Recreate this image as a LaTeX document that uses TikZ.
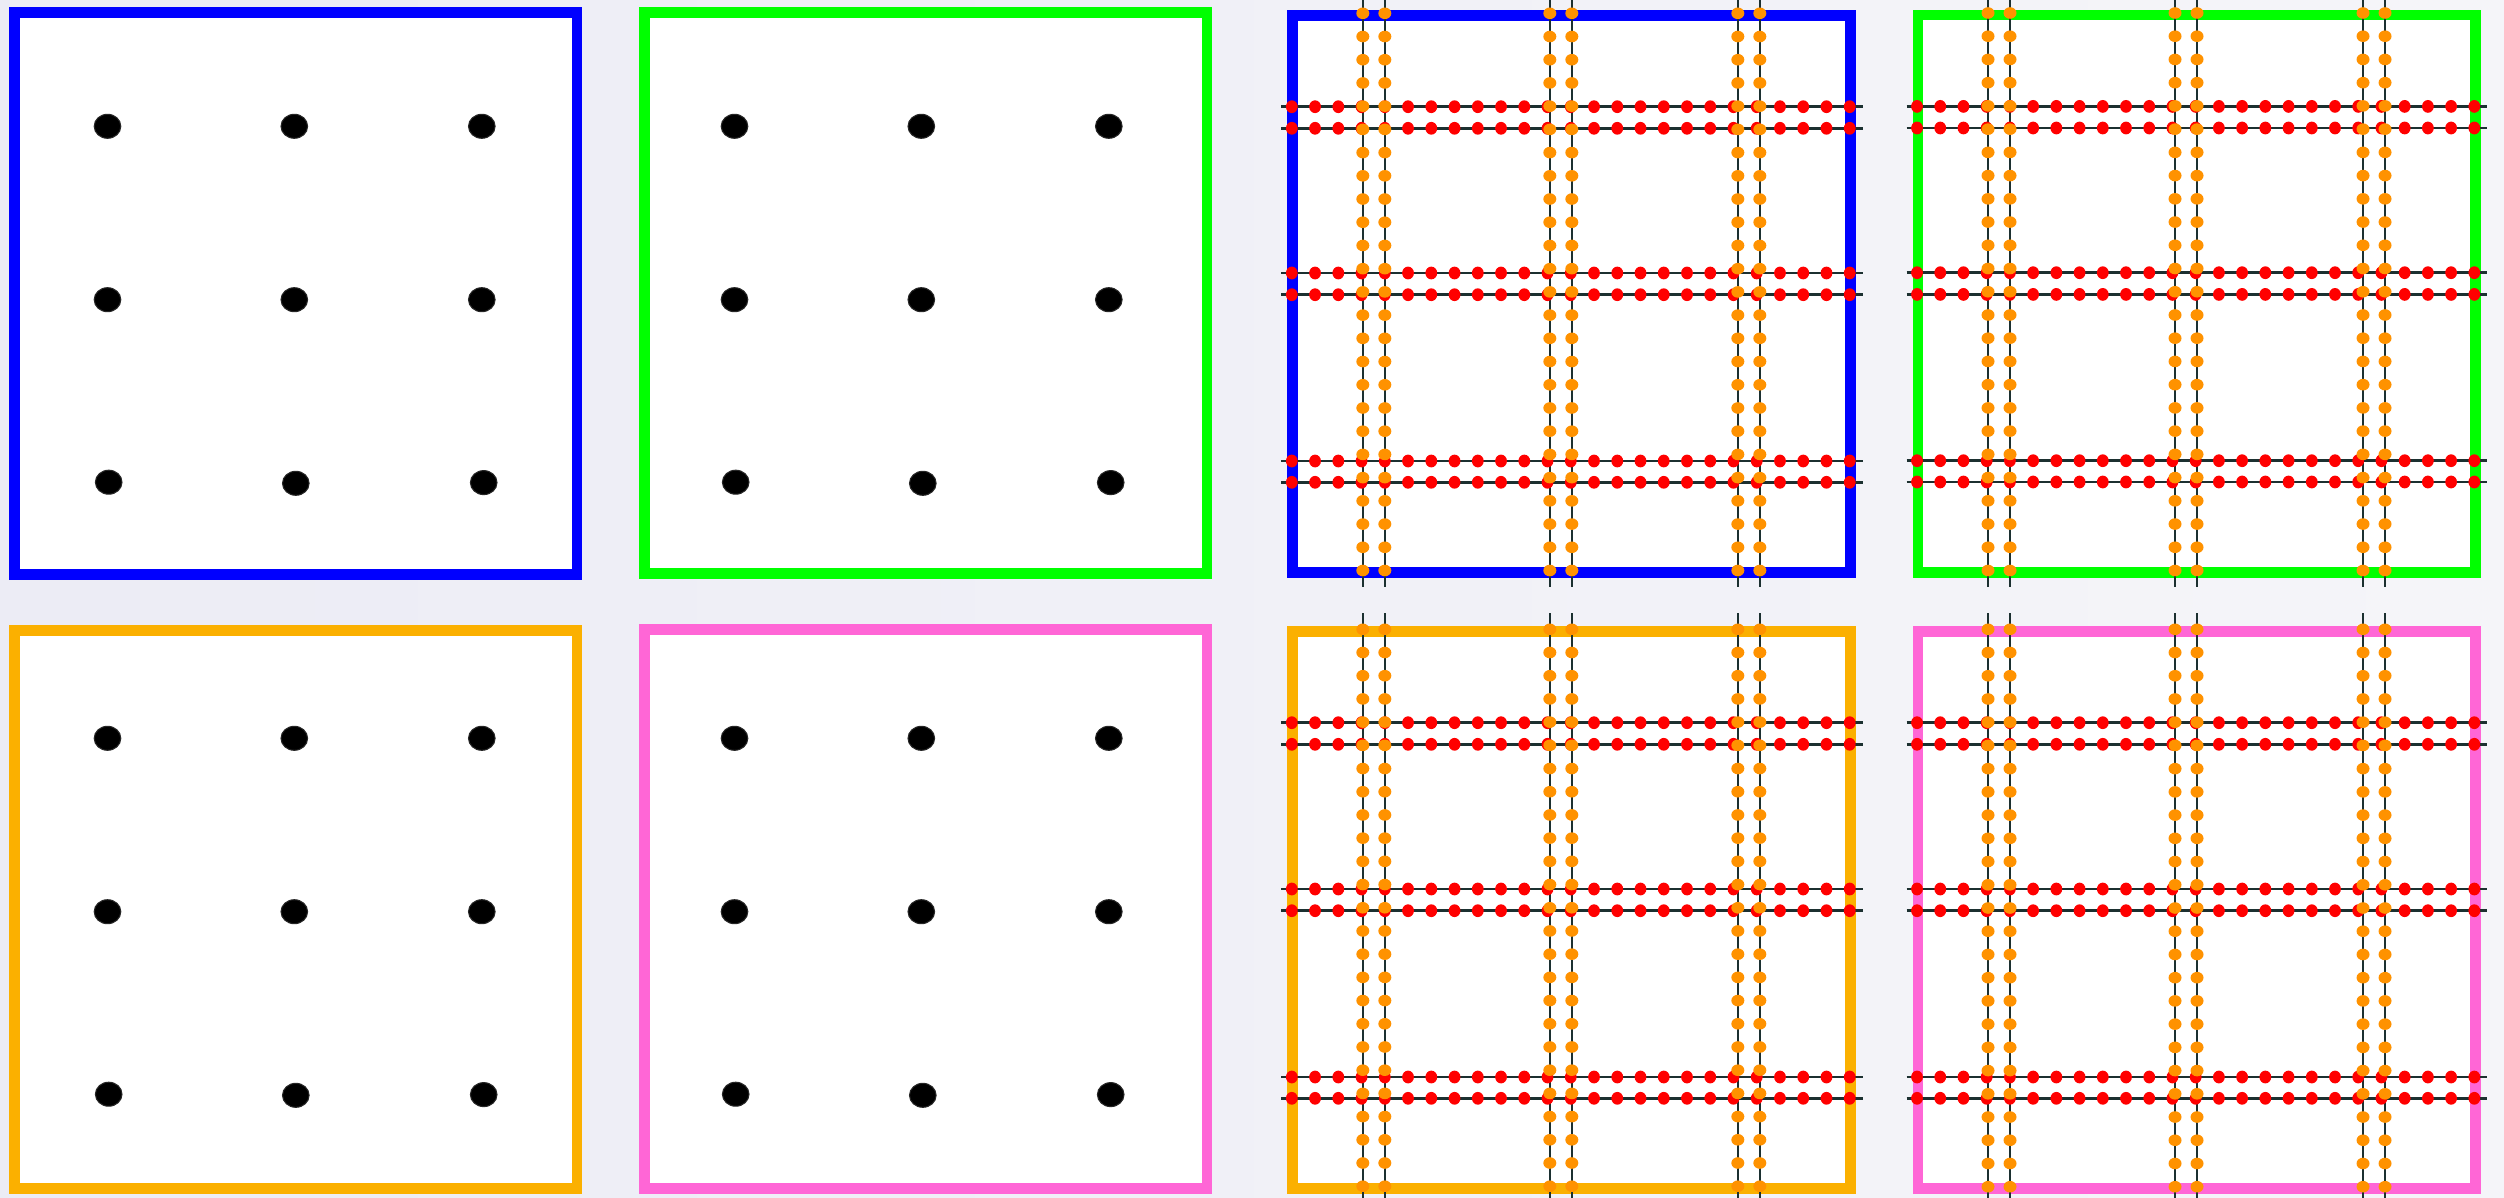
\documentclass[tikz,border=0pt]{standalone}
\definecolor{bgl}{RGB}{236,236,245}
\definecolor{bgr}{RGB}{245,245,249}
\definecolor{bblue}{RGB}{0,0,255}
\definecolor{bgreen}{RGB}{0,255,0}
\definecolor{bamber}{RGB}{251,176,0}
\definecolor{bpink}{RGB}{255,102,214}
\definecolor{dorange}{RGB}{255,146,0}
\definecolor{dred}{RGB}{255,0,0}
\definecolor{gline}{RGB}{28,48,48}
\tikzset{
  frame/.style={line width=3.1pt,fill=white},
  gridline/.style={draw=gline,line width=0.72pt},
  blackdot/.style={fill=black,draw=black!85,line width=0.3pt},
  reddot/.style={fill=dred},
  orangedot/.style={fill=dorange}
}
% plain box with 3x3 black dots: L T R B colour dx dy
\newcommand\mydotbox[7]{%
  \draw[frame,draw=#5] (#1,#2) rectangle (#3,#4);
  \foreach \px/\py in {107.5/126.3,294.3/126.3,481.8/126.3,
                       107.5/299.7,294.3/299.7,481.8/299.7,
                       108.7/482.2,295.8/483.3,483.7/482.6}{
    \path[blackdot] ({\px+#6},{\py+#7}) ellipse [x radius=13.3,y radius=12];
  }%
}
% box with doubled grid lines and dots: L T R B colour
\newcommand\mygridbox[5]{%
  \draw[frame,draw=#5] (#1,#2) rectangle (#3,#4);
  \foreach \o in {70,92,257,279,445,467}{
    \draw[gridline] ({#1+\o},{#2-18}) -- ({#1+\o},{#4+14});
  }
  \foreach \o in {91.4,113,257.7,279.4,445.7,467}{
    \draw[gridline] ({#1-11.5},{#2+\o}) -- ({#3+11.8},{#2+\o});
  }
  \foreach \o in {91.4,113,257.7,279.4,445.7,467}{
    \foreach \i in {0,...,24}{
      \path[reddot] ({#1-1+\i*(#3-#1)/24},{#2+\o}) ellipse [x radius=5.9,y radius=6.4];
    }
  }
  \foreach \o in {70,92,257,279,445,467}{
    \foreach \i in {0,...,24}{
      \path[orangedot] ({#1+\o},{#2-2+\i*(#4-#2)/24}) ellipse [x radius=6.5,y radius=5.8];
    }
  }%
}
\begin{document}
\begin{tikzpicture}[x=0.01cm,y=-0.01cm]
  \useasboundingbox (0,0) rectangle (2504,1197);
  \shade[left color=bgl,right color=bgr] (0,0) rectangle (2504,1197);
  % left half: plain boxes
  \mydotbox{14.2}{12.2}{577}{574.6}{bblue}{0}{0}
  \mydotbox{644.3}{12.5}{1207}{573.3}{bgreen}{627}{0}
  \mydotbox{14.2}{630.5}{577}{1188.5}{bamber}{0}{612}
  \mydotbox{644.3}{629.3}{1207}{1188.5}{bpink}{627}{612}
  % right half: gridded boxes
  \mygridbox{1292.8}{15.3}{1850.7}{572.5}{bblue}
  \mygridbox{1918}{15}{2475.3}{572.5}{bgreen}
  \mygridbox{1292.8}{631.3}{1850.7}{1188.2}{bamber}
  \mygridbox{1918}{631.3}{2475.3}{1188.7}{bpink}
\end{tikzpicture}
\end{document}
